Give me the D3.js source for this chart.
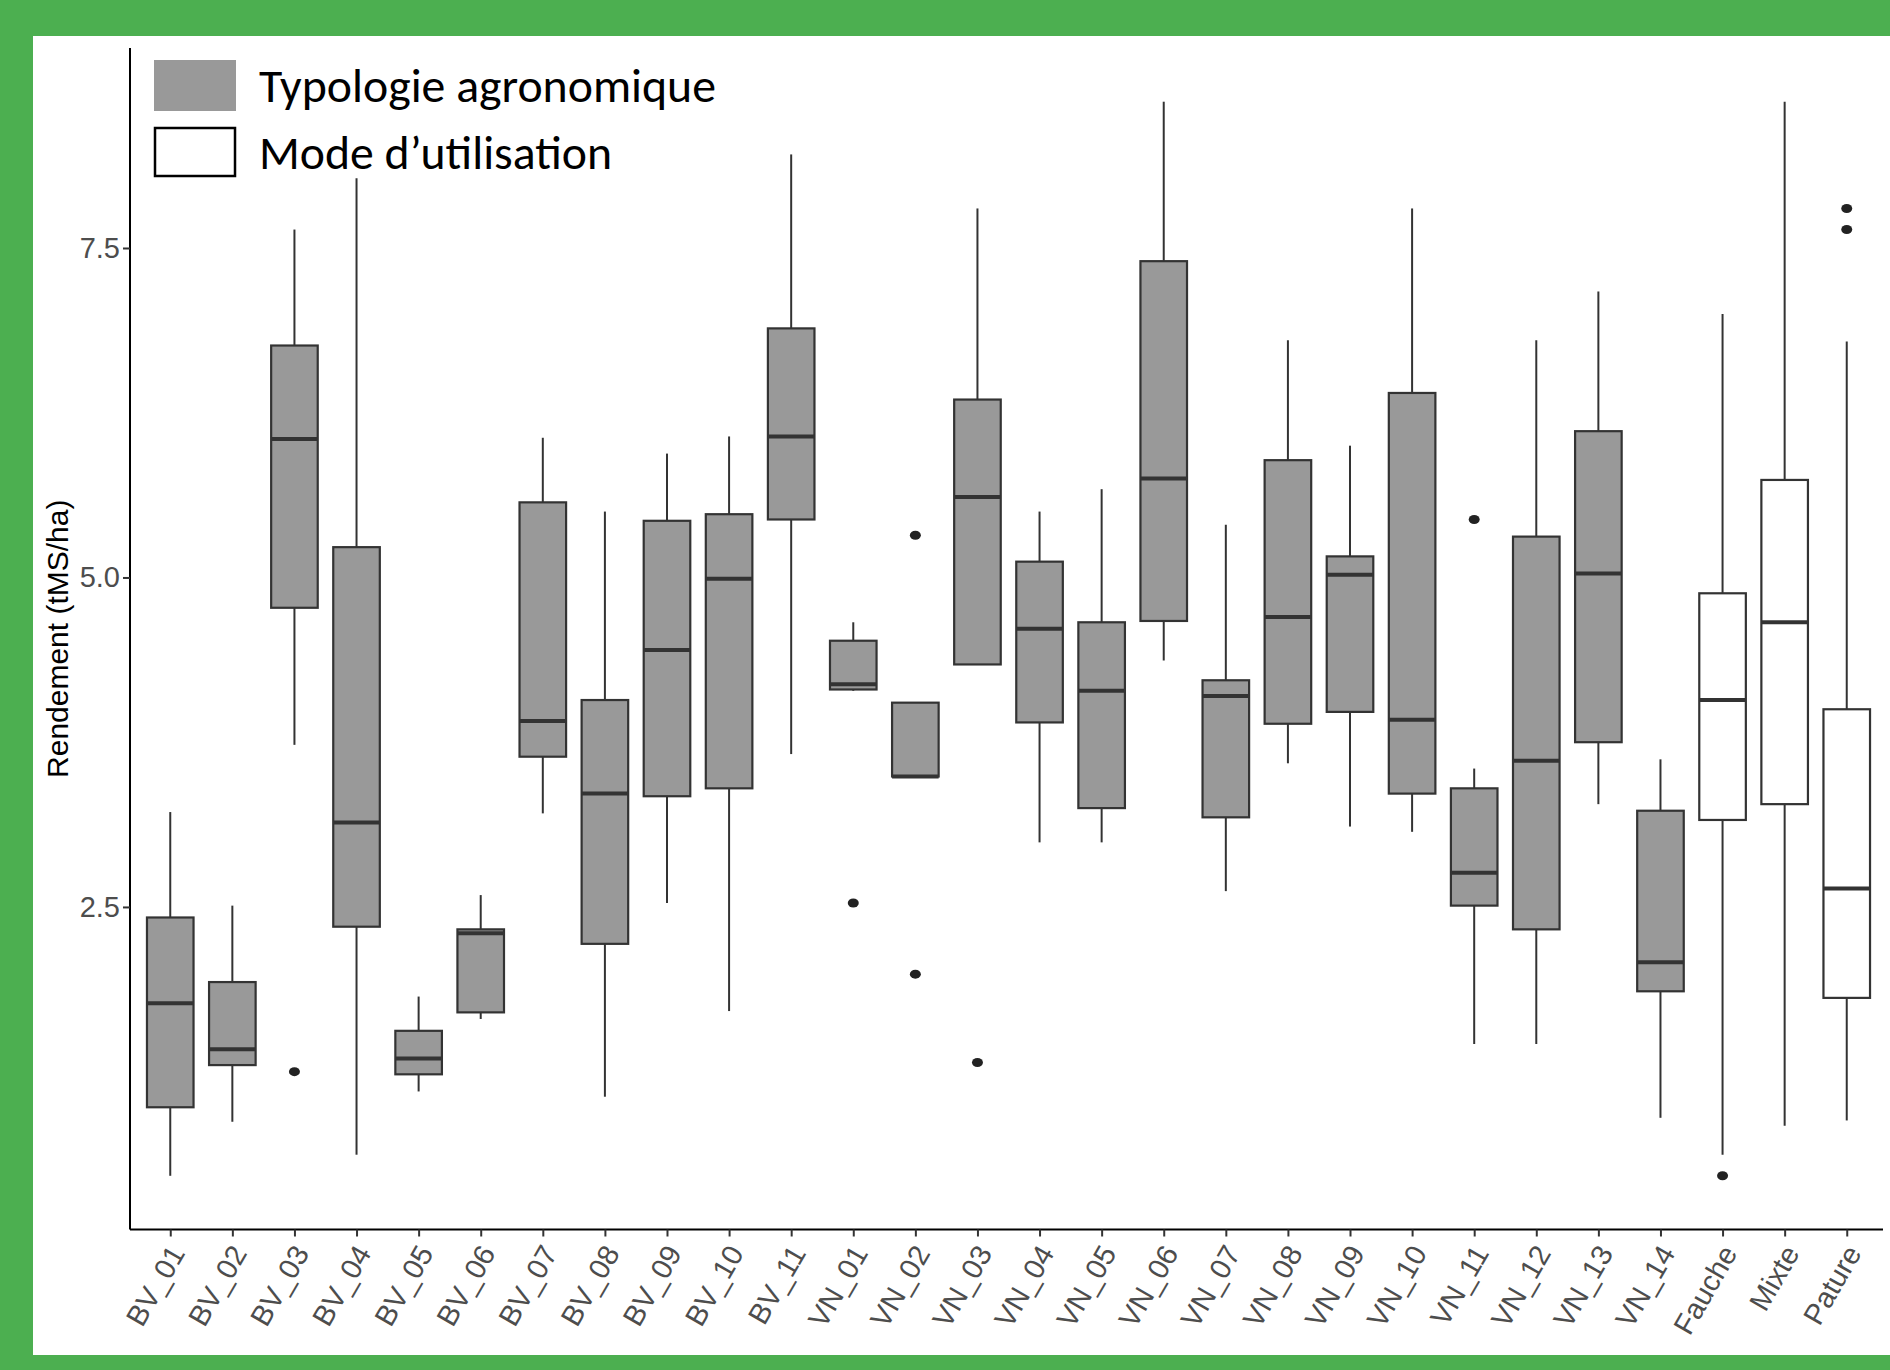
<!DOCTYPE html>
<html>
<head>
<meta charset="utf-8">
<script src="https://cdn.jsdelivr.net/npm/d3@7"></script>
<style>
  html, body { margin: 0; padding: 0; background: #4caf50; }
  svg { display: block; }
</style>
</head>
<body>
<svg id="chart" width="1890" height="1370"></svg>
<script>
// ---------- DATA ----------
const categories = ["BV_01","BV_02","BV_03","BV_04","BV_05","BV_06","BV_07","BV_08","BV_09","BV_10","BV_11",
  "VN_01","VN_02","VN_03","VN_04","VN_05","VN_06","VN_07","VN_08","VN_09","VN_10","VN_11","VN_12","VN_13","VN_14",
  "Fauche","Mixte","Pature"];
const groups = ["Typologie agronomique","Typologie agronomique","Typologie agronomique","Typologie agronomique","Typologie agronomique",
  "Typologie agronomique","Typologie agronomique","Typologie agronomique","Typologie agronomique","Typologie agronomique","Typologie agronomique",
  "Typologie agronomique","Typologie agronomique","Typologie agronomique","Typologie agronomique","Typologie agronomique","Typologie agronomique",
  "Typologie agronomique","Typologie agronomique","Typologie agronomique","Typologie agronomique","Typologie agronomique","Typologie agronomique",
  "Typologie agronomique","Typologie agronomique",
  "Mode d\u2019utilisation","Mode d\u2019utilisation","Mode d\u2019utilisation"];
const lowerWhisker = [0.46,0.87,3.73,0.62,1.10,1.65,3.21,1.06,2.53,1.71,3.66,
  4.14,3.49,4.34,2.99,2.99,4.37,2.62,3.59,3.11,3.07,1.46,1.46,3.28,0.90,
  0.62,0.84,0.88];
const q1 = [0.98,1.30,4.77,2.35,1.23,1.70,3.64,2.22,3.34,3.40,5.44,
  4.15,3.49,4.34,3.90,3.25,4.67,3.18,3.89,3.98,3.36,2.51,2.33,3.75,1.86,
  3.16,3.28,1.81];
const median = [1.77,1.42,6.05,3.14,1.35,2.30,3.91,3.36,4.45,4.99,6.07,
  4.19,3.49,5.61,4.61,4.14,5.75,4.10,4.70,5.02,3.92,2.76,3.61,5.03,2.08,
  4.07,4.66,2.64];
const q3 = [2.42,1.93,6.76,5.23,1.56,2.33,5.57,4.07,5.43,5.48,6.89,
  4.52,4.05,6.35,5.12,4.66,7.40,4.22,5.89,5.16,6.40,3.40,5.31,6.11,3.23,
  4.88,5.74,4.00];
const upperWhisker = [3.22,2.51,7.64,8.03,1.82,2.59,6.06,5.50,5.94,6.07,8.21,
  4.66,4.05,7.80,5.50,5.67,8.61,5.40,6.80,6.00,7.80,3.55,6.80,7.17,3.62,
  7.00,8.61,6.79];
const outlierCats = ["BV_03","VN_01","VN_02","VN_02","VN_03","VN_11","Fauche","Pature","Pature"];
const outlierValues = [1.25,2.53,5.32,1.99,1.32,5.44,0.46,7.80,7.64];
const yTicks = [2.5, 5.0, 7.5];
const yTickLabels = ["2.5","5.0","7.5"];
const legendLabels = ["Typologie agronomique","Mode d\u2019utilisation"];
const legendFills = ["#999999","#ffffff"];
const yTitle = "Rendement (tMS/ha)";

// ---------- LAYOUT ----------
const svg = d3.select("#chart");
const W = 1890, H = 1370;
const panel = {x: 33, y: 36, w: W - 33, h: 1355 - 36};
const plot = {left: 130, right: 1883, top: 48, bottom: 1229.5};

svg.append("rect").attr("x", 0).attr("y", 0).attr("width", W).attr("height", H).attr("fill", "#4caf50");
svg.append("rect").attr("x", panel.x).attr("y", panel.y).attr("width", panel.w).attr("height", panel.h).attr("fill", "#ffffff");

const allVals = lowerWhisker.concat(upperWhisker, outlierValues);
const vmin = d3.min(allVals), vmax = d3.max(allVals);
const pad = (vmax - vmin) * 0.05;
const y = d3.scaleLinear().domain([vmin - pad, vmax + pad]).range([plot.bottom, plot.top]);
const x = d3.scalePoint().domain(categories).range([plot.left + 3, plot.right + 1]).padding(0.6);
const boxW = x.step() * 0.75;
const fillScale = d3.scaleOrdinal().domain(legendLabels).range(legendFills);

const rows = categories.map((c, i) => ({
  cat: c, grp: groups[i], lo: lowerWhisker[i], q1: q1[i], med: median[i], q3: q3[i], hi: upperWhisker[i]
}));

const g = svg.append("g");
const stroke = "#333333";

// whiskers
g.selectAll("line.wu").data(rows).join("line")
  .attr("x1", d => x(d.cat)).attr("x2", d => x(d.cat))
  .attr("y1", d => y(d.q3)).attr("y2", d => y(d.hi))
  .attr("stroke", stroke).attr("stroke-width", 2);
g.selectAll("line.wl").data(rows).join("line")
  .attr("x1", d => x(d.cat)).attr("x2", d => x(d.cat))
  .attr("y1", d => y(d.q1)).attr("y2", d => y(d.lo))
  .attr("stroke", stroke).attr("stroke-width", 2);

// boxes
g.selectAll("rect.box").data(rows).join("rect")
  .attr("x", d => x(d.cat) - boxW / 2).attr("width", boxW)
  .attr("y", d => y(d.q3)).attr("height", d => Math.max(0.5, y(d.q1) - y(d.q3)))
  .attr("fill", d => fillScale(d.grp))
  .attr("stroke", stroke).attr("stroke-width", 2.2);

// medians
g.selectAll("line.med").data(rows).join("line")
  .attr("x1", d => x(d.cat) - boxW / 2).attr("x2", d => x(d.cat) + boxW / 2)
  .attr("y1", d => y(d.med)).attr("y2", d => y(d.med))
  .attr("stroke", stroke).attr("stroke-width", 4);

// outliers
const outliers = outlierCats.map((c, i) => ({cat: c, v: outlierValues[i]}));
g.selectAll("ellipse.out").data(outliers).join("ellipse")
  .attr("cx", d => x(d.cat)).attr("cy", d => y(d.v))
  .attr("rx", 5.5).attr("ry", 4.5)
  .attr("fill", "#222222");

// axes
const font = "'Liberation Sans', Arial, sans-serif";
const yAxis = d3.axisLeft(y).tickValues(yTicks).tickFormat((d, i) => yTickLabels[i]).tickSize(7).tickPadding(3);
const ya = svg.append("g").attr("transform", `translate(${plot.left},0)`).call(yAxis);
ya.select(".domain").attr("d", `M0,${plot.top}V${plot.bottom}`).attr("stroke", "#000").attr("stroke-width", 2);
ya.selectAll(".tick line").attr("stroke", "#333").attr("stroke-width", 2);
ya.selectAll(".tick text").attr("font-family", font).attr("font-size", 29).attr("fill", "#4d4d4d");

const xAxis = d3.axisBottom(x).tickSize(7).tickFormat(d => d);
const xa = svg.append("g").attr("transform", `translate(0,${plot.bottom})`).call(xAxis);
xa.select(".domain").attr("d", `M${plot.left},0H${plot.right}`).attr("stroke", "#000").attr("stroke-width", 2);
xa.selectAll(".tick line").attr("stroke", "#333").attr("stroke-width", 2);
xa.selectAll(".tick text")
  .attr("font-family", font).attr("font-size", 29).attr("fill", "#4d4d4d")
  .attr("text-anchor", "end")
  .attr("x", 0).attr("y", 0).attr("dy", "0.72em")
  .attr("transform", "translate(-3,13) rotate(-60)");

// y title
svg.append("text")
  .attr("transform", `translate(57,${(plot.top + plot.bottom) / 2}) rotate(-90)`)
  .attr("text-anchor", "middle").attr("dominant-baseline", "central")
  .attr("font-family", font).attr("font-size", 30).attr("fill", "#000")
  .text(yTitle);

// legend
const legY = [60, 127];
const leg = svg.append("g");
legendLabels.forEach((lab, i) => {
  leg.append("rect").attr("x", i === 0 ? 154 : 155).attr("y", legY[i] + (i === 0 ? 0 : 1))
    .attr("width", i === 0 ? 82 : 80).attr("height", i === 0 ? 51 : 48)
    .attr("fill", legendFills[i]).attr("stroke", i === 0 ? "none" : "#000").attr("stroke-width", 2.5);
  leg.append("text").attr("x", 259).attr("y", legY[i] + 42)
    .attr("font-family", "Carlito, Calibri, Lato, 'Open Sans', sans-serif").attr("font-size", 47)
    .attr("fill", "#000")
    .attr("textLength", i === 0 ? 457 : 353).attr("lengthAdjust", "spacingAndGlyphs")
    .text(lab);
});
</script>
</body>
</html>
